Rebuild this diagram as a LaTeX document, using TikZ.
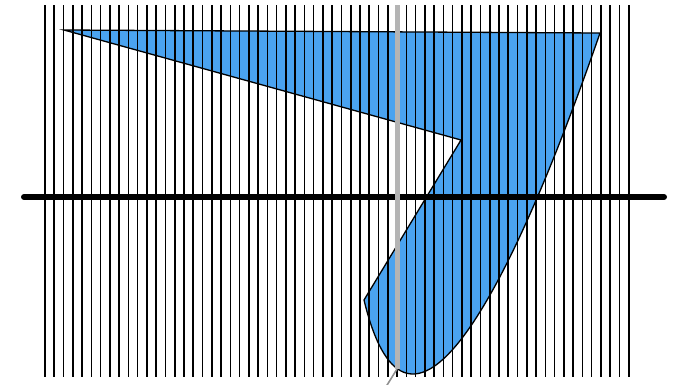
\documentclass[tikz,border=0pt]{standalone}
\definecolor{shapeblue}{HTML}{4AA3F0}
\definecolor{axisgray}{HTML}{B4B4B4}
\tikzset{
  blueshape/.style={fill=shapeblue, draw=black, line width=1.3pt, line join=miter},
  hatchline/.style={draw=black, line width=1.6pt},
  baseline/.style={draw=black, line width=6pt, line cap=round},
  grayaxis/.style={draw=axisgray, line width=5pt},
  graytail/.style={draw=axisgray!80!black, line width=1.6pt},
}
\begin{document}
\begin{tikzpicture}[x=1pt,y=-1pt]
\useasboundingbox (0,0) rectangle (684,384);
% shape
\coordinate (tl) at (64,30);
\coordinate (tr) at (600,33);
\coordinate (bl) at (364,300);
\coordinate (notch) at (461,140);
\path[blueshape] (tl) -- (tr) .. controls (496,333) and (405,470) .. (bl) -- (notch) -- cycle;
% vertical hatch lines
\foreach \i in {0,...,63}{
  \coordinate (vt\i) at ({45+\i*9.265},5);
  \coordinate (vb\i) at ({45+\i*9.265},377);
  \draw[hatchline] (vt\i) -- (vb\i);
}
% horizontal thick line
\coordinate (hl) at (24,197);
\coordinate (hr) at (664,197);
\draw[baseline] (hl) -- (hr);
% gray axis
\coordinate (gt) at (397,5);
\coordinate (gb) at (397,369);
\coordinate (ge) at (384,390);
\draw[grayaxis] (gt) -- (gb);
\draw[graytail] (gb) -- (ge);
\end{tikzpicture}
\end{document}
